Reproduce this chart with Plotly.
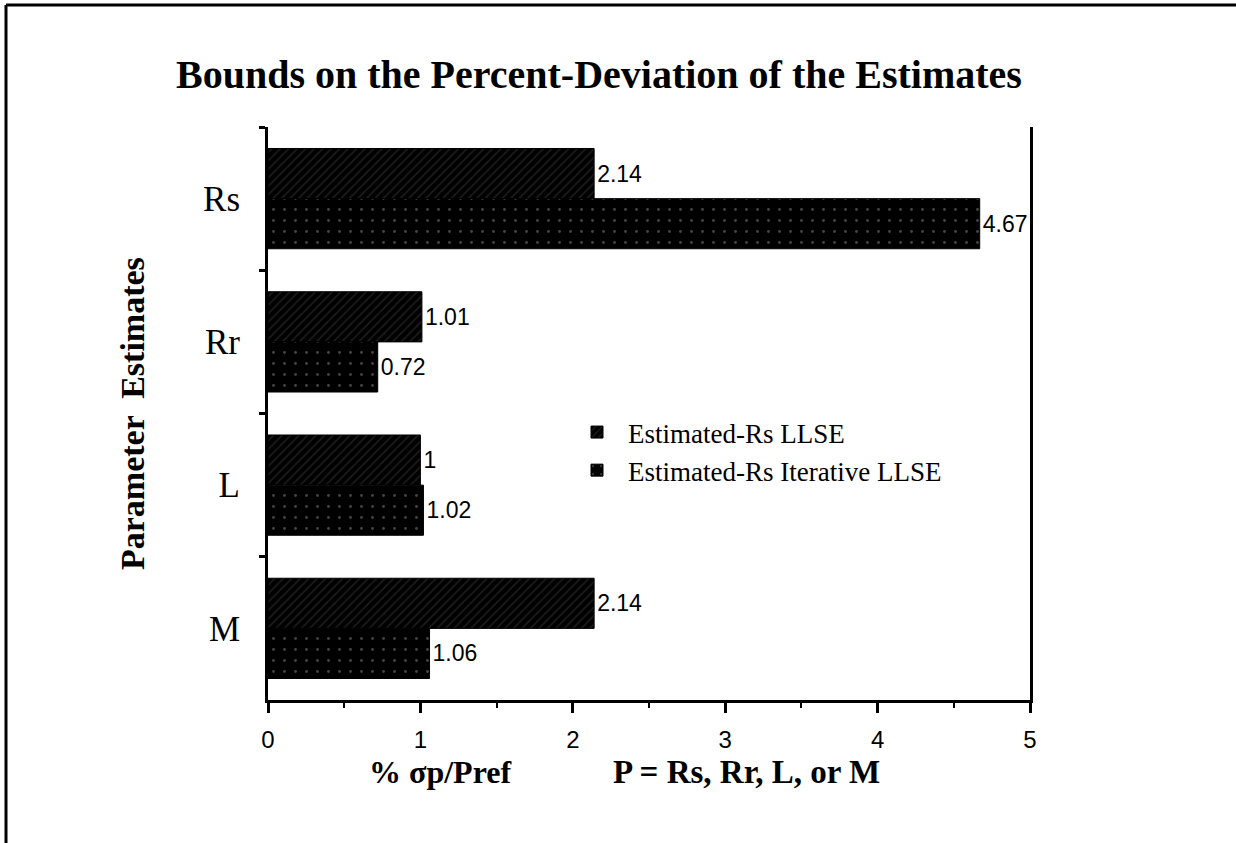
import plotly.graph_objects as go

categories = ["Rs", "Rr", "L", "M"]
llse = [2.14, 1.01, 1.00, 2.14]
iterative = [4.67, 0.72, 1.02, 1.06]
llse_labels = ["2.14", "1.01", "1", "2.14"]
iter_labels = ["4.67", "0.72", "1.02", "1.06"]
series_names = ["Estimated-Rs LLSE", "Estimated-Rs Iterative LLSE"]

W, H = 1236, 843
L, R, T, B = 268, 206, 127, 143
pw, ph = W - L - R, H - T - B

def px(x):
    return (x - L) / pw

def py(y):
    return (H - B - y) / ph

serif = "Liberation Serif, Times New Roman, serif"
sans = "Liberation Sans, Arial, sans-serif"

fig = go.Figure()
fig.add_trace(go.Bar(
    y=categories, x=llse, orientation="h", name=series_names[0],
    text=llse_labels, textposition="outside", cliponaxis=True, constraintext="none",
    textfont=dict(family=sans, size=23, color="black"),
    marker=dict(color="black", line=dict(color="black", width=1),
                pattern=dict(shape="/", fgcolor="#3c3c3c", bgcolor="black", size=6, solidity=0.25)),
))
fig.add_trace(go.Bar(
    y=categories, x=iterative, orientation="h", name=series_names[1],
    text=iter_labels, textposition="outside", cliponaxis=True, constraintext="none",
    textfont=dict(family=sans, size=23, color="black"),
    marker=dict(color="black", line=dict(color="black", width=1),
                pattern=dict(shape=".", fgcolor="#8a8a8a", bgcolor="black", size=11, solidity=0.05)),
))

fig.update_layout(
    width=W, height=H,
    margin=dict(l=L, r=R, t=T, b=B),
    paper_bgcolor="white", plot_bgcolor="white",
    barmode="group", bargap=0.30, bargroupgap=0,
    showlegend=True,
    legend=dict(x=px(566), y=py(408), xanchor="left", yanchor="top",
                font=dict(family=serif, size=27, color="black"),
                bgcolor="rgba(0,0,0,0)", tracegroupgap=0, itemwidth=52),
    xaxis=dict(range=[0, 5], showgrid=False, zeroline=False,
               showline=True, linecolor="black", linewidth=3,
               ticks="outside", ticklen=10, tickwidth=3, tickcolor="black",
               dtick=1, tick0=0, ticklabelstandoff=6,
               tickfont=dict(family=sans, size=24, color="black"),
               minor=dict(dtick=0.5, ticks="outside", ticklen=5, tickwidth=2,
                          tickcolor="black", showgrid=False)),
    yaxis=dict(categoryorder="array", categoryarray=categories, autorange="reversed",
               showgrid=False, zeroline=False,
               showline=True, mirror=True, linecolor="black", linewidth=3,
               ticks="outside", tickson="boundaries", ticklen=6, tickwidth=3, tickcolor="black",
               ticklabelstandoff=18,
               tickfont=dict(family=serif, size=35, color="black")),
    annotations=[
        dict(text="<b>Bounds on the Percent-Deviation of the Estimates</b>",
             xref="paper", yref="paper", x=px(599), y=py(75), xanchor="center", yanchor="middle",
             showarrow=False, font=dict(family=serif, size=40, color="black")),
        dict(text="<b>Parameter  Estimates</b>",
             xref="paper", yref="paper", x=px(132), y=py(414), xanchor="center", yanchor="middle",
             textangle=-90, showarrow=False, font=dict(family=serif, size=34, color="black")),
        dict(text="<b>% σp/Pref</b>",
             xref="paper", yref="paper", x=px(440), y=py(772), xanchor="center", yanchor="middle",
             showarrow=False, font=dict(family=serif, size=32, color="black")),
        dict(text="<b>P = Rs, Rr, L, or M</b>",
             xref="paper", yref="paper", x=px(746), y=py(772), xanchor="center", yanchor="middle",
             showarrow=False, font=dict(family=serif, size=33, color="black")),
    ],
    shapes=[
        dict(type="line", xref="paper", yref="paper", x0=px(6), x1=px(1236), y0=py(5), y1=py(5),
             line=dict(color="black", width=3)),
        dict(type="line", xref="paper", yref="paper", x0=px(6), x1=px(6), y0=py(5), y1=py(843),
             line=dict(color="black", width=3)),
    ],
)

fig.write_html("out.html")
